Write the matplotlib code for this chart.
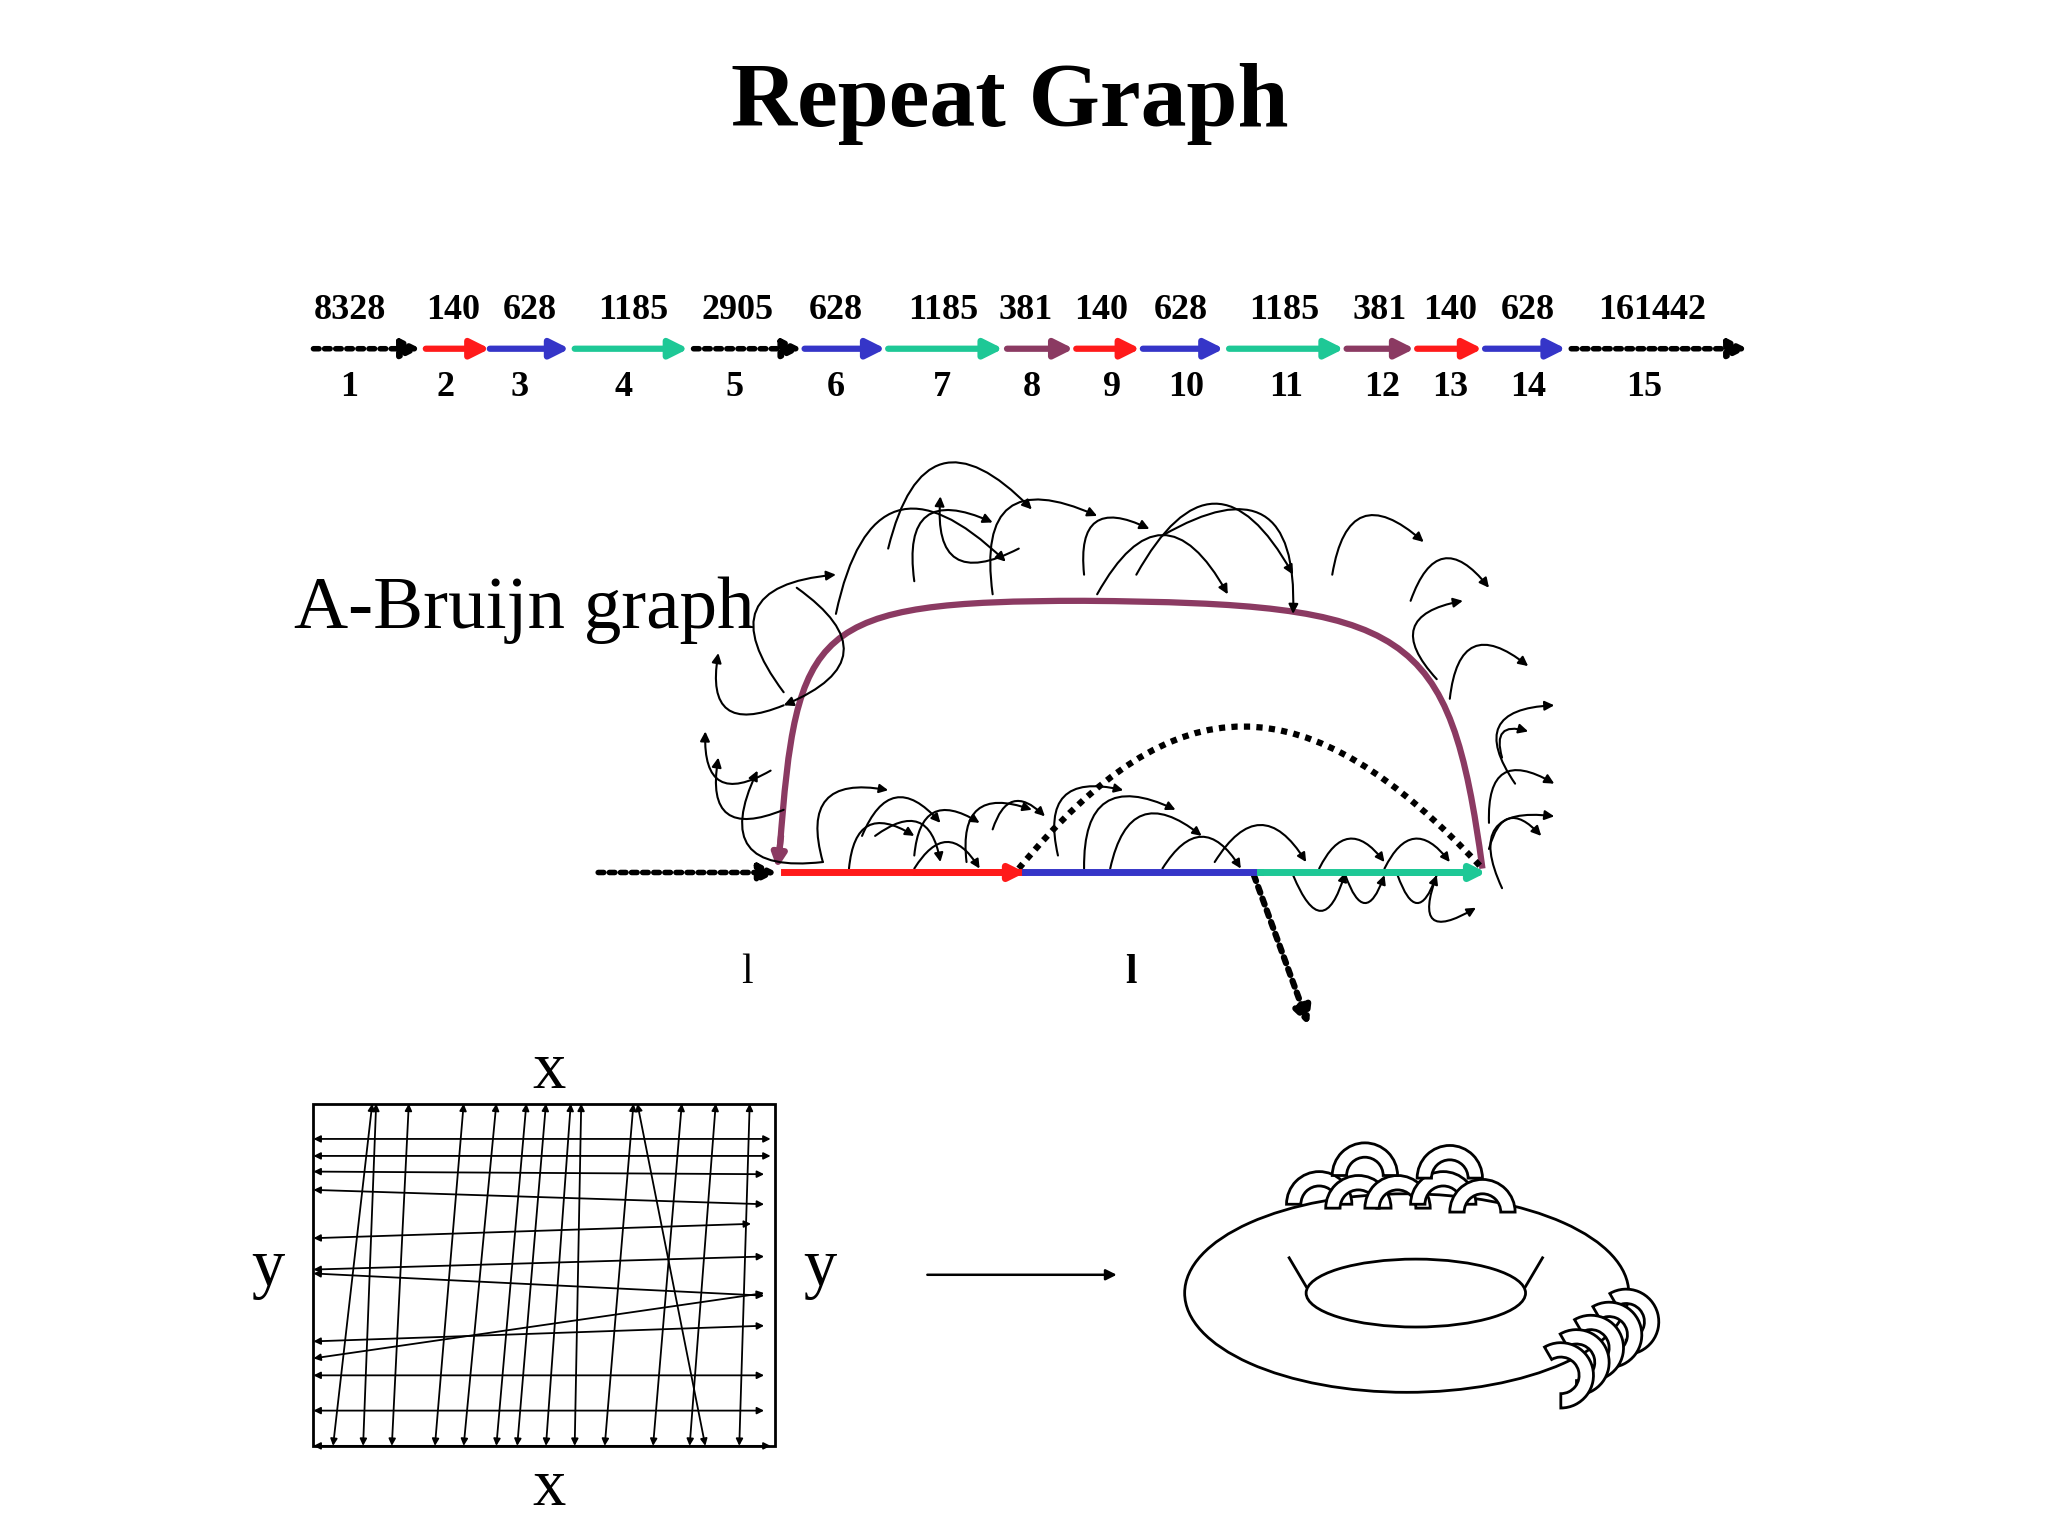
import matplotlib
matplotlib.use("agg")
import matplotlib.pyplot as plt
from matplotlib.patches import FancyArrowPatch, Ellipse, Rectangle, Wedge, PathPatch
from matplotlib.path import Path

# Segment data for the top sequence row.
seg_lengths = ["8328", "140", "628", "1185", "2905", "628", "1185", "381",
               "140", "628", "1185", "381", "140", "628", "161442"]
seg_ids = [str(i) for i in range(1, 16)]
seg_kind = ["gap", "r", "b", "g", "gap", "b", "g", "p",
            "r", "b", "g", "p", "r", "b", "gap"]
seg_x0 = [240, 326, 375, 440, 531, 616, 680, 771, 824, 875, 941, 1031, 1085, 1137, 1203]
seg_x1 = [322, 375, 436, 527, 614, 678, 768, 822, 873, 937, 1029, 1083, 1135, 1199, 1338]
lab_x = [268, 347, 406, 485, 565, 640, 722, 785, 843, 904, 983, 1056, 1110, 1170, 1265]
num_x = [267, 341, 398, 477, 562, 640, 721, 790, 851, 908, 985, 1058, 1110, 1170, 1259]

COL = {"r": "#ff1a1a", "b": "#3535c8", "g": "#1ec896", "p": "#8b3a62", "gap": "black"}
SERIF = ["Liberation Serif", "DejaVu Serif"]

fig = plt.figure(figsize=(20.48, 15.36), dpi=100)
ax = fig.add_axes([0, 0, 1, 1])
ax.set_xlim(0, 1568)
ax.set_ylim(1176, 0)
ax.axis("off")


def arrow(p1, p2, color="black", lw=1.5, ls="-", rad=0.0, ms=14, style="-|>"):
    ax.add_patch(FancyArrowPatch(p1, p2, arrowstyle=style, mutation_scale=ms,
                                 color=color, lw=lw, linestyle=ls, shrinkA=0, shrinkB=0,
                                 connectionstyle=f"arc3,rad={rad}"))


ax.text(773, 80, "Repeat Graph", ha="center", va="center", fontsize=66,
        fontweight="bold", family=SERIF)

# top row
for lab, num, k, a, b, lx, nx in zip(seg_lengths, seg_ids, seg_kind, seg_x0, seg_x1,
                                     lab_x, num_x):
    if k == "gap":
        arrow((a, 267), (b, 267), lw=4, ls=(0, (1, 1)), ms=28)
    else:
        arrow((a, 267), (b, 267), color=COL[k], lw=4.5, ms=28)
    ax.text(lx, 238, lab, ha="center", va="center", fontsize=26,
            fontweight="bold", family=SERIF)
    ax.text(nx, 297, num, ha="center", va="center", fontsize=26,
            fontweight="bold", family=SERIF)

# A-Bruijn graph
ax.text(225, 467, "A-Bruijn graph", ha="left", va="center", fontsize=54, family=SERIF)
arrow((458, 668), (595, 668), lw=4, ls=(0, (1, 1)), ms=26)
ax.plot([600, 783], [668, 668], color=COL["r"], lw=5)
arrow((700, 668), (785, 668), color=COL["r"], lw=5, ms=22)
ax.plot([785, 965], [668, 668], color=COL["b"], lw=5)
ax.plot([965, 1130], [668, 668], color=COL["g"], lw=5)
arrow((1060, 668), (1138, 668), color=COL["g"], lw=5, ms=22)

# purple cycle
verts = [(1135, 665), (1110, 480), (1080, 462), (830, 460),
         (620, 460), (610, 480), (597, 650)]
ax.add_patch(PathPatch(Path(verts, [1, 4, 4, 4, 4, 4, 4]), fc="none",
                       ec=COL["p"], lw=4.5))
arrow((598, 640), (595, 665), color=COL["p"], lw=4.5, ms=20)

# dotted hump
dverts = [(780, 665), (900, 520), (1000, 520), (1135, 665)]
ax.add_patch(PathPatch(Path(dverts, [1, 4, 4, 4]), fc="none", ec="black",
                       lw=4.5, ls=(0, (1, 1))))
arrow((960, 670), (1002, 785), lw=4.5, ls=(0, (1, 1)), ms=26)

# small loops around the cycle
loops_top = [(600, 530, 640, 440), (680, 420, 790, 390), (700, 445, 760, 400),
             (640, 470, 770, 430), (760, 455, 840, 395), (830, 440, 880, 405),
             (840, 455, 940, 455), (870, 440, 990, 440), (890, 410, 990, 470),
             (1020, 440, 1090, 415), (1080, 460, 1140, 450), (1100, 520, 1120, 460),
             (1110, 535, 1170, 510), (1150, 580, 1170, 560), (1160, 600, 1190, 540),
             (1140, 630, 1190, 600), (1140, 650, 1180, 640), (1150, 680, 1190, 625),
             (600, 540, 550, 500), (590, 590, 540, 560), (600, 620, 550, 580),
             (630, 660, 580, 590), (610, 450, 600, 540), (780, 420, 720, 380)]
for x1, y1, x2, y2 in loops_top:
    arrow((x1, y1), (x2, y2), lw=1.5, rad=-0.9, ms=14)

loops_bottom = [(630, 660, 680, 605), (660, 640, 720, 630), (700, 655, 750, 630),
                (740, 660, 790, 620), (760, 635, 800, 625), (650, 665, 700, 640),
                (670, 640, 720, 660), (700, 665, 750, 665), (810, 655, 860, 605),
                (830, 665, 900, 620), (850, 665, 920, 640), (890, 665, 950, 665),
                (930, 660, 1000, 660), (1010, 665, 1060, 660), (1060, 665, 1110, 660)]
for x1, y1, x2, y2 in loops_bottom:
    arrow((x1, y1), (x2, y2), lw=1.5, rad=-0.8, ms=13)
for x1, y1, x2, y2 in [(990, 670, 1030, 668), (1030, 670, 1060, 670),
                       (1070, 670, 1100, 670), (1100, 670, 1130, 695)]:
    arrow((x1, y1), (x2, y2), lw=1.5, rad=1.4, ms=13)

ax.text(572, 745, "l", ha="center", va="center", fontsize=30, family=SERIF)
ax.text(866, 745, "l", ha="center", va="center", fontsize=30, family=SERIF,
        fontweight="bold")

# bottom-left grid
ax.add_patch(Rectangle((240, 845), 353, 262, fill=False, lw=2))
h_arrows = [(590, 872, 240, 872), (240, 885, 590, 885), (240, 897, 585, 899),
            (240, 911, 585, 922), (240, 948, 575, 937), (240, 972, 585, 962),
            (240, 975, 585, 992), (240, 1040, 585, 990), (240, 1027, 585, 1015),
            (240, 1053, 585, 1053), (240, 1080, 585, 1080), (240, 1107, 590, 1107)]
for x1, y1, x2, y2 in h_arrows:
    arrow((x1, y1), (x2, y2), lw=1.3, ms=10, style="<|-|>")
v_arrows = [(255, 1107, 285, 845), (278, 1107, 288, 845), (300, 1107, 313, 845),
            (333, 1107, 355, 845), (355, 1107, 380, 845), (380, 1107, 403, 845),
            (396, 1107, 418, 845), (418, 1107, 437, 845), (440, 1107, 445, 845),
            (463, 1107, 485, 845), (500, 1107, 522, 845), (528, 1107, 548, 845),
            (540, 1107, 488, 845), (566, 1107, 574, 845)]
for x1, y1, x2, y2 in v_arrows:
    arrow((x1, y1), (x2, y2), lw=1.3, ms=10, style="<|-|>")
ax.text(420, 820, "x", ha="center", va="center", fontsize=48, family=SERIF)
ax.text(420, 1140, "x", ha="center", va="center", fontsize=48, family=SERIF)
ax.text(205, 972, "y", ha="center", va="center", fontsize=48, family=SERIF)
ax.text(628, 972, "y", ha="center", va="center", fontsize=48, family=SERIF)
arrow((710, 976), (855, 976), lw=1.8, ms=16)

# torus
ax.add_patch(Ellipse((1077, 990), 340, 152, fc="white", ec="black", lw=2, zorder=3))
ax.add_patch(Ellipse((1084, 990), 168, 52, fc="none", ec="black", lw=2, zorder=3))
ax.plot([987, 1000], [963, 985], color="black", lw=2, zorder=3)
ax.plot([1181, 1168], [963, 985], color="black", lw=2, zorder=3)
for cx, cy in [(1010, 922), (1040, 925), (1070, 925), (1105, 922), (1135, 928),
               (1045, 900), (1110, 902)]:
    ax.add_patch(Wedge((cx, cy), 25, 180, 360, width=11, fc="white", ec="black",
                       lw=2, zorder=4))
for cx, cy in [(1245, 1012), (1232, 1022), (1218, 1032), (1207, 1043), (1195, 1053)]:
    ax.add_patch(Wedge((cx, cy), 25, -120, 90, width=11, fc="white", ec="black",
                       lw=2, zorder=4))

fig.savefig("out.png", dpi=100, facecolor="white")
